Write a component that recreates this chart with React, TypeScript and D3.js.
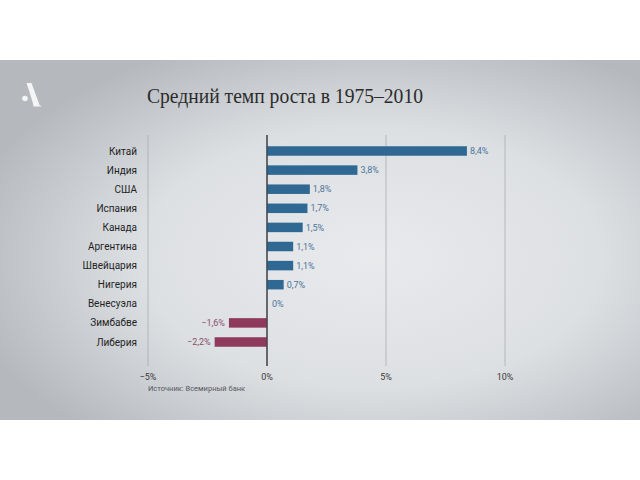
import React, { useEffect, useRef } from 'react';
import * as d3 from 'd3';

const countries = ['Китай', 'Индия', 'США', 'Испания', 'Канада', 'Аргентина', 'Швейцария', 'Нигерия', 'Венесуэла', 'Зимбабве', 'Либерия'];
const growth = [8.4, 3.8, 1.8, 1.7, 1.5, 1.1, 1.1, 0.7, 0, -1.6, -2.2];
const ticks = [-5, 0, 5, 10];
const title = 'Средний темп роста в 1975–2010';
const source = 'Источник: Всемирный банк';

const W = 640;
const H = 480;

const fmt = (v: number) => (v < 0 ? '−' : '') + String(Math.abs(v)).replace('.', ',') + '%';

const Chart = () => {
  const svgRef = useRef<SVGSVGElement>(null);

  useEffect(() => {
    if (!svgRef.current) return;
    const svg = d3.select(svgRef.current);
    svg.selectAll('*').remove();

    const defs = svg.append('defs');
    const grad = defs.append('radialGradient')
      .attr('id', 'bg')
      .attr('cx', '58%').attr('cy', '55%').attr('r', '65%');
    grad.append('stop').attr('offset', '0%').attr('stop-color', '#e8eaec');
    grad.append('stop').attr('offset', '55%').attr('stop-color', '#dde0e3');
    grad.append('stop').attr('offset', '100%').attr('stop-color', '#b5b9be');

    svg.append('rect').attr('width', W).attr('height', H).attr('fill', '#ffffff');
    svg.append('rect').attr('x', 0).attr('y', 60).attr('width', W).attr('height', 360).attr('fill', 'url(#bg)');

    // logo
    const logo = svg.append('g').attr('fill', '#f4f5f6');
    logo.append('path').attr('d', 'M26.5,83 L31.5,83 L39.5,105 L42,106.5 L33.5,106.5 L33,103.5 L29.5,92 Z');
    logo.append('circle').attr('cx', 25).attr('cy', 98.5).attr('r', 2.8);

    svg.append('text')
      .attr('x', 147).attr('y', 103)
      .attr('font-family', '"Liberation Serif", serif')
      .attr('font-size', 20)
      .attr('textLength', 276)
      .attr('lengthAdjust', 'spacingAndGlyphs')
      .attr('fill', '#2b2b2b')
      .text(title);

    const x = d3.scaleLinear().domain([-5, 10]).range([148, 505]);
    const y = d3.scalePoint<string>().domain(countries).range([151, 342]);
    const barH = 9.5;

    // gridlines
    svg.append('g').selectAll('line')
      .data(ticks)
      .join('line')
      .attr('x1', d => x(d)).attr('x2', d => x(d))
      .attr('y1', 135).attr('y2', 366)
      .attr('stroke', d => (d === 0 ? '#3d3f44' : '#a8acb2'))
      .attr('stroke-width', d => (d === 0 ? 1 : 0.8));

    svg.append('g').selectAll('text')
      .data(ticks)
      .join('text')
      .attr('x', d => x(d)).attr('y', 380)
      .attr('text-anchor', 'middle')
      .attr('font-family', 'Roboto, sans-serif')
      .attr('font-size', 9)
      .attr('fill', '#3a3a3a')
      .text(d => fmt(d));

    // bars
    svg.append('g').selectAll('rect')
      .data(growth)
      .join('rect')
      .attr('x', d => x(Math.min(0, d)))
      .attr('y', (_, i) => (y(countries[i]) as number) - barH / 2)
      .attr('width', d => Math.abs(x(d) - x(0)))
      .attr('height', barH)
      .attr('fill', d => (d < 0 ? '#8e3a5c' : '#2f6892'));

    // zero line on top of bars
    svg.append('line')
      .attr('x1', x(0)).attr('x2', x(0))
      .attr('y1', 135).attr('y2', 366)
      .attr('stroke', '#3d3f44').attr('stroke-width', 1);

    // country labels
    svg.append('g').selectAll('text')
      .data(countries)
      .join('text')
      .attr('x', 137)
      .attr('y', d => y(d) as number)
      .attr('dy', '0.35em')
      .attr('text-anchor', 'end')
      .attr('font-family', 'Roboto, sans-serif')
      .attr('font-size', 10)
      .attr('fill', '#1f1f1f')
      .text(d => d);

    // value labels
    svg.append('g').selectAll('text')
      .data(growth)
      .join('text')
      .attr('x', d => (d < 0 ? x(d) - 4 : x(d) + (d === 0 ? 5 : 3)))
      .attr('y', (_, i) => y(countries[i]) as number)
      .attr('dy', '0.35em')
      .attr('text-anchor', d => (d < 0 ? 'end' : 'start'))
      .attr('font-family', 'Roboto, sans-serif')
      .attr('font-size', 9)
      .attr('fill', d => (d < 0 ? '#8a4f6d' : '#4d7499'))
      .text(d => fmt(d));

    svg.append('text')
      .attr('x', 148).attr('y', 391)
      .attr('font-family', 'Roboto, sans-serif')
      .attr('font-size', 7.5)
      .attr('fill', '#55585c')
      .text(source);
  }, []);

  return <svg ref={svgRef} width={W} height={H} style={{ display: 'block' }} />;
};

export default function App() {
  return (
    <div style={{ position: 'fixed', left: 0, top: 0, width: W, height: H }}>
      <Chart />
    </div>
  );
}
